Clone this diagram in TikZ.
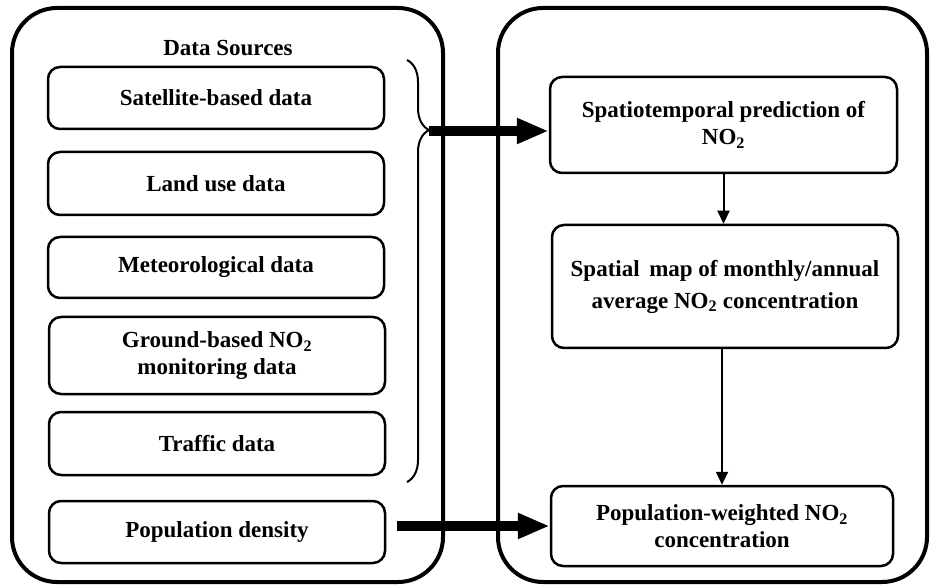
\documentclass[tikz,border=0pt]{standalone}
\usepackage{fontspec}
\setmainfont{Liberation Serif}
\usetikzlibrary{arrows.meta,decorations.pathreplacing,calc}
\begin{document}
\begin{tikzpicture}[x=1pt,y=-1pt,
  outerbox/.style={draw, line width=4pt, rounded corners=45pt, inner sep=0pt},
  srcbox/.style={draw, line width=2.5pt, rounded corners=12pt, align=center, inner sep=0pt,
    font=\bfseries\fontsize{23}{27}\selectfont, minimum width=336pt},
  stagebox/.style={srcbox},
  thinarrow/.style={line width=2pt, -{Triangle[length=13pt,width=12pt]}},
  bigarrow/.style={line width=10pt, -{Triangle[length=32pt,width=24pt]}},
  bracestyle/.style={line width=2pt, decorate, decoration={brace, amplitude=22pt, aspect=0.166}},
  titletext/.style={font=\bfseries\fontsize{23}{27}\selectfont, inner sep=0pt}
]
\useasboundingbox (0,0) rectangle (932,585);
% outer panels
\node[outerbox, minimum width=431pt, minimum height=574pt] (left) at (227.5,295) {};
\node[outerbox, minimum width=429pt, minimum height=574pt] (right) at (712.5,295) {};
\node[titletext] (title) at (228,48) {Data Sources};
% data sources
\node[srcbox, minimum height=62pt] (sat) at (216,98) {Satellite-based data};
\node[srcbox, minimum height=63pt] (land) at (216,183.5) {Land use data};
\node[srcbox, minimum height=61pt] (met) at (216,267.5) {Meteorological data};
\node[srcbox, minimum height=77pt] (ground) at (217,355.5) {Ground-based NO\textsubscript{2}\\monitoring data};
\node[srcbox, minimum height=63pt] (traffic) at (217,443.5) {Traffic data};
\node[srcbox, minimum height=62pt] (pop) at (217,532) {Population density};
% stages
\node[stagebox, minimum width=347pt, minimum height=96pt] (pred) at (723.5,125) {Spatiotemporal prediction of\\NO\textsubscript{2}};
\node[stagebox, minimum width=346pt, minimum height=123pt, font=\bfseries\fontsize{23}{32}\selectfont] (map) at (725,286.5) {Spatial\ \,map of monthly/annual\\average NO\textsubscript{2} concentration};
\node[stagebox, minimum width=342pt, minimum height=80pt] (pw) at (722,526) {Population-weighted NO\textsubscript{2}\\concentration};
% brace
\coordinate (btop) at (407,60);
\coordinate (bbot) at (407,482);
\draw[bracestyle] (btop) -- (bbot);
\coordinate (tip) at (429,131);
% connectors
\draw[bigarrow] (tip) -- (tip -| pred.west);
\draw[bigarrow] ([xshift=11pt]pop.east |- pw.west) -- (pw.west);
\draw[thinarrow] (pred.south) -- (pred.south |- map.north);
\draw[thinarrow] ([xshift=-3pt]map.south) -- ([xshift=-3pt]map.south |- pw.north);
\end{tikzpicture}
\end{document}
